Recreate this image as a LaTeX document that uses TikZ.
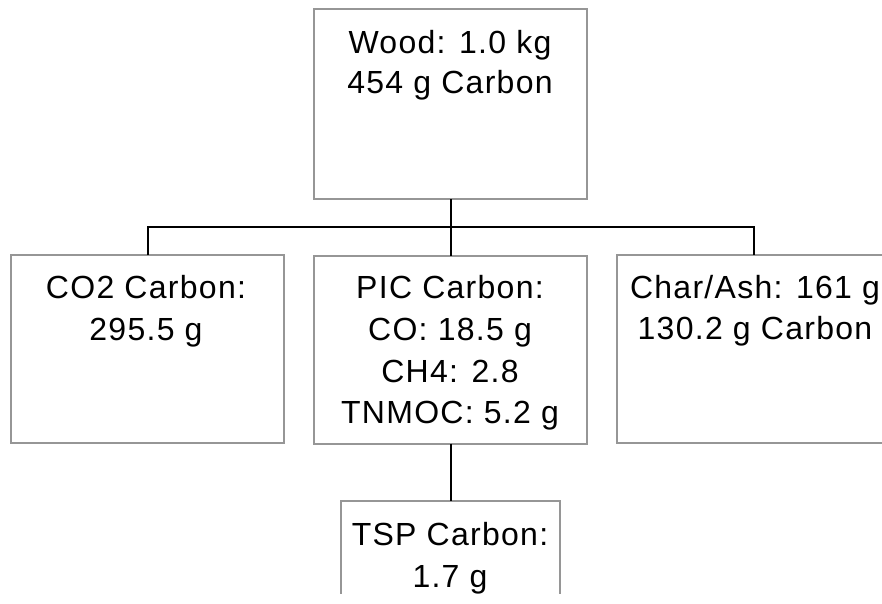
\documentclass[tikz,border=0pt]{standalone}
\usepackage{fontspec}
\setmainfont{Liberation Sans}[LetterSpace=4]
\definecolor{boxgray}{RGB}{150,150,150}
\begin{document}
\begin{tikzpicture}[x=1pt,y=-1pt,
  box/.style={draw=boxgray, line width=2pt, inner sep=0pt, outer sep=0pt, minimum height=188pt},
  ln/.style={anchor=base, inner sep=0pt, font=\fontsize{32}{40}\selectfont},
  conn/.style={draw=black, line width=2pt}]
\useasboundingbox[fill=white] (0,0) rectangle (882,603);
\begin{scope}
\clip (0,0) rectangle (882,593);
% boxes
\node[box, minimum width=273pt, minimum height=190pt] (wood) at (450.5,104) {};
\node[box, minimum width=273pt] (co2) at (147.5,349) {};
\node[box, minimum width=273pt] (pic) at (450.5,349.5) {};
\node[box, minimum width=273pt] (char) at (753.5,349) {};
\node[box, minimum width=219pt, anchor=north] (tsp) at (450.5,501) {};
% connectors
\coordinate (bus) at (450.5,227);
\draw[conn] (wood.south) -- (bus);
\draw[conn] (co2.north) |- (bus) -| (char.north);
\draw[conn] (bus) -- (pic.north);
\draw[conn] (pic.south) -- (tsp.north);
% texts
\node[ln] (w1) at (450,53) {Wood: 1.0 kg};
\node[ln] (w2) at (450,93) {454 g Carbon};
\node[ln] (c1) at (146,298) {CO2 Carbon:};
\node[ln] (c2) at (146,340) {295.5 g};
\node[ln] (p1) at (450,298) {PIC Carbon:};
\node[ln] (p2) at (450,340) {CO: 18.5 g};
\node[ln] (p3) at (450,382) {CH4: 2.8};
\node[ln] (p4) at (450,423) {TNMOC: 5.2 g};
\node[ln] (h1) at (755,298) {Char/Ash: 161 g};
\node[ln] (h2) at (755,339) {130.2 g Carbon};
\node[ln] (t1) at (450,545) {TSP Carbon:};
\node[ln] (t2) at (450,587) {1.7 g};
\end{scope}
\end{tikzpicture}
\end{document}
